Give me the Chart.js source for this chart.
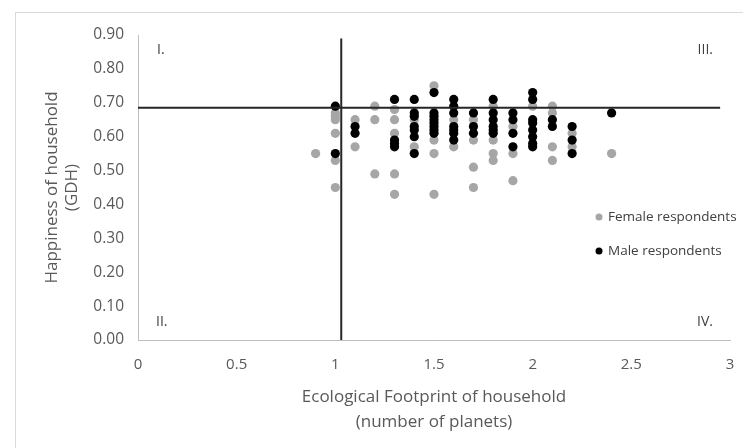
<!DOCTYPE html>
<html>
<head>
<meta charset="utf-8">
<title>Happiness vs Ecological Footprint</title>
<script src="https://cdn.jsdelivr.net/npm/chart.js@4/dist/chart.umd.min.js"></script>
<style>
    html, body { margin: 0; padding: 0; background: #fff; }
    #wrap { position: relative; width: 743px; height: 448px; overflow: hidden; }
    #frame { position: absolute; left: 15px; top: 12px; width: 740px; height: 460px; border: 1px solid #d9d9d9; box-sizing: border-box; }
    #chart { position: absolute; left: 0; top: 0; }
</style>
</head>
<body>
<div id="wrap">
    <div id="frame"></div>
    <canvas id="chart" width="743" height="448"></canvas>
</div>
<script>
// Female respondents: ecological footprint (planets) and happiness (GDH)
const femaleFootprint = [
    0.9,
    1.0, 1.0, 1.0, 1.0, 1.0, 1.0,
    1.1, 1.1,
    1.2, 1.2, 1.2,
    1.3, 1.3, 1.3, 1.3, 1.3,
    1.4, 1.4,
    1.5, 1.5, 1.5, 1.5,
    1.6, 1.6,
    1.7, 1.7, 1.7, 1.7,
    1.8, 1.8, 1.8, 1.8,
    1.9, 1.9, 1.9,
    2.0,
    2.1, 2.1, 2.1, 2.1,
    2.2, 2.2,
    2.4
];
const femaleHappiness = [
    0.55,
    0.67, 0.66, 0.65, 0.61, 0.53, 0.45,
    0.65, 0.57,
    0.69, 0.65, 0.49,
    0.68, 0.65, 0.61, 0.49, 0.43,
    0.65, 0.57,
    0.75, 0.59, 0.55, 0.43,
    0.65, 0.57,
    0.65, 0.59, 0.51, 0.45,
    0.69, 0.59, 0.55, 0.53,
    0.63, 0.55, 0.47,
    0.69,
    0.69, 0.67, 0.57, 0.53,
    0.61, 0.57,
    0.55
];

// Male respondents
const maleFootprint = [
    1.0, 1.0,
    1.1, 1.1,
    1.3, 1.3, 1.3, 1.3,
    1.4, 1.4, 1.4, 1.4, 1.4, 1.4, 1.4,
    1.5, 1.5, 1.5, 1.5, 1.5, 1.5, 1.5, 1.5,
    1.6, 1.6, 1.6, 1.6, 1.6, 1.6, 1.6,
    1.7, 1.7, 1.7,
    1.8, 1.8, 1.8, 1.8, 1.8, 1.8,
    1.9, 1.9, 1.9, 1.9,
    2.0, 2.0, 2.0, 2.0, 2.0, 2.0, 2.0, 2.0,
    2.1, 2.1,
    2.2, 2.2, 2.2,
    2.4
];
const maleHappiness = [
    0.69, 0.55,
    0.63, 0.61,
    0.71, 0.59, 0.58, 0.57,
    0.71, 0.67, 0.66, 0.63, 0.62, 0.60, 0.55,
    0.73, 0.67, 0.66, 0.65, 0.64, 0.63, 0.62, 0.61,
    0.71, 0.69, 0.67, 0.63, 0.62, 0.61, 0.59,
    0.67, 0.63, 0.61,
    0.71, 0.67, 0.65, 0.63, 0.62, 0.61,
    0.67, 0.65, 0.61, 0.57,
    0.73, 0.71, 0.65, 0.64, 0.62, 0.60, 0.58, 0.57,
    0.65, 0.63,
    0.63, 0.59, 0.55,
    0.67
];

// Quadrant divider lines (x = footprint, y = happiness)
const verticalLineX = [1.03, 1.03];
const verticalLineY = [0, 0.89];
const horizontalLineX = [0, 2.95];
const horizontalLineY = [0.685, 0.685];

// Quadrant names: top-left, bottom-left, top-right, bottom-right
const quadrantNames = ['I.', 'II.', 'III.', 'IV.'];
const seriesNames = ['Female respondents', 'Male respondents'];

const FEMALE_COLOR = '#a6a6a6';
const MALE_COLOR = '#000000';
const LINE_COLOR = '#262626';
const TEXT_COLOR = '#595959';
const FONT_FAMILY = '"Open Sans", "Noto Sans", sans-serif';

const toPoints = (xs, ys) => xs.map((x, i) => ({ x, y: ys[i] }));

// Draws quadrant labels and the small legend inside the plot area
const annotationsPlugin = {
    id: 'annotations',
    afterDatasetsDraw(chart) {
        const { ctx, chartArea } = chart;
        ctx.save();
        ctx.fillStyle = '#404040';
        ctx.font = `14px ${FONT_FAMILY}`;
        ctx.textBaseline = 'middle';

        ctx.textAlign = 'left';
        ctx.fillText(quadrantNames[0], chartArea.left + 19, chartArea.top + 15);
        ctx.fillText(quadrantNames[1], chartArea.left + 18, chartArea.bottom - 18);
        ctx.textAlign = 'right';
        ctx.fillText(quadrantNames[2], chartArea.right - 17, chartArea.top + 15);
        ctx.fillText(quadrantNames[3], chartArea.right - 17, chartArea.bottom - 18);

        // legend
        const legendX = 599;
        const rows = [
            { y: 217, color: FEMALE_COLOR, label: seriesNames[0] },
            { y: 251, color: MALE_COLOR, label: seriesNames[1] }
        ];
        ctx.textAlign = 'left';
        ctx.font = `13.5px ${FONT_FAMILY}`;
        rows.forEach(row => {
            ctx.beginPath();
            ctx.fillStyle = row.color;
            ctx.arc(legendX, row.y, 3.5, 0, Math.PI * 2);
            ctx.fill();
            ctx.fillStyle = '#404040';
            ctx.fillText(row.label, legendX + 9, row.y);
        });
        ctx.restore();
    }
};

const ctx = document.getElementById('chart').getContext('2d');

const chart = new Chart(ctx, {
    type: 'scatter',
    data: {
        datasets: [
            {
                label: seriesNames[0],
                data: toPoints(femaleFootprint, femaleHappiness),
                backgroundColor: FEMALE_COLOR,
                borderWidth: 0,
                pointRadius: 4.6,
                order: 2
            },
            {
                label: seriesNames[1],
                data: toPoints(maleFootprint, maleHappiness),
                backgroundColor: MALE_COLOR,
                borderWidth: 0,
                pointRadius: 4.6,
                order: 1
            },
            {
                type: 'line',
                data: toPoints(verticalLineX, verticalLineY),
                borderColor: LINE_COLOR,
                borderWidth: 2,
                pointRadius: 0,
                order: 0
            },
            {
                type: 'line',
                data: toPoints(horizontalLineX, horizontalLineY),
                borderColor: LINE_COLOR,
                borderWidth: 2,
                pointRadius: 0,
                order: 0
            }
        ]
    },
    options: {
        responsive: false,
        animation: false,
        layout: {
            padding: { left: 42, top: 35, right: 13, bottom: 8 }
        },
        plugins: {
            legend: { display: false },
            tooltip: { enabled: false }
        },
        scales: {
            x: {
                type: 'linear',
                min: 0,
                max: 3,
                grid: { display: false, drawTicks: false },
                border: { display: true, color: '#bfbfbf', width: 1 },
                afterFit: (scale) => {
                    scale.height = 100;
                    // the tick padding would otherwise widen the right margin
                    scale.paddingLeft = 0;
                    scale.paddingRight = 0;
                },
                ticks: {
                    stepSize: 0.5,
                    padding: 16,
                    color: TEXT_COLOR,
                    font: { family: FONT_FAMILY, size: 15 },
                    maxRotation: 0,
                    callback: (value) => `${value}`
                },
                title: {
                    display: true,
                    text: ['Ecological Footprint of household', '(number of planets)'],
                    color: TEXT_COLOR,
                    font: { family: FONT_FAMILY, size: 17, lineHeight: 1.45 },
                    padding: { top: 0, bottom: 6 }
                }
            },
            y: {
                type: 'linear',
                min: 0,
                max: 0.9,
                grid: { display: false, drawTicks: false },
                border: { display: true, color: '#bfbfbf', width: 1 },
                afterFit: (scale) => { scale.width = 96; },
                ticks: {
                    stepSize: 0.1,
                    padding: 14,
                    color: TEXT_COLOR,
                    font: { family: FONT_FAMILY, size: 15.5 },
                    callback: (value) => value.toFixed(2)
                },
                title: {
                    display: true,
                    text: ['Happiness of household', '(GDH)'],
                    color: TEXT_COLOR,
                    font: { family: FONT_FAMILY, size: 17, lineHeight: 1.2 },
                    padding: { top: 0, bottom: 0 }
                }
            }
        }
    },
    plugins: [annotationsPlugin]
});
</script>
</body>
</html>
